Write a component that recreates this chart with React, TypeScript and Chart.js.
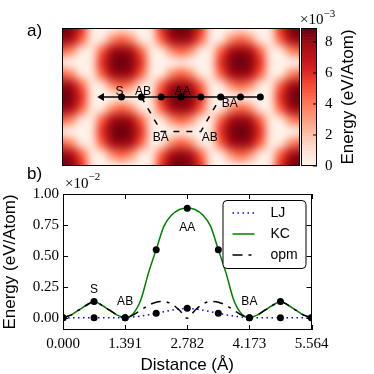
import { useEffect, useRef } from 'react';
import { Chart, registerables } from 'chart.js';

Chart.register(...registerables);

const SANS = '"Liberation Sans", Arial, sans-serif';
const SERIF = '"Liberation Serif", "Times New Roman", serif';

// ---------------- Panel a: energy landscape (x10^-3 eV/Atom) ----------------
// one rectangular period of the landscape, sampled every 0.348 Å (x) and 0.402 Å (y)
const latticeStepX = 0.34775;
const latticeStepY = 0.40167;
const energyRow0 = [8.85, 8.3, 5.8, 1.2, 0, 0.3, 1.0, 0.3, 0, 1.2, 5.8, 8.3];
const energyRow1 = [8.1, 7.4, 4.6, 0.9, 0.9, 3.4, 4.6, 3.4, 0.9, 0.9, 4.6, 7.4];
const energyRow2 = [4.6, 3.4, 0.9, 0.9, 4.6, 7.4, 8.1, 7.4, 4.6, 0.9, 0.9, 3.4];
const energyRow3 = [1.0, 0.3, 0, 1.2, 5.8, 8.3, 8.85, 8.3, 5.8, 1.2, 0, 0.3];
const energyRow4 = [4.6, 3.4, 0.9, 0.9, 4.6, 7.4, 8.1, 7.4, 4.6, 0.9, 0.9, 3.4];
const energyRow5 = [8.1, 7.4, 4.6, 0.9, 0.9, 3.4, 4.6, 3.4, 0.9, 0.9, 4.6, 7.4];
const energyCell = [energyRow0, energyRow1, energyRow2, energyRow3, energyRow4, energyRow5];
const heatXMax = 8.346;
const heatYMax = 4.82;
const colorbarMax = 8.9;
const colorbarTicks = [0, 2, 4, 6, 8];

const pathX = [6.955, 6.2595, 5.564, 4.8685, 4.173, 3.4775, 2.782, 2.0865, 1.391];
const pathY = [2.41, 2.41, 2.41, 2.41, 2.41, 2.41, 2.41, 2.41, 2.41];
const dashX = [2.782, 3.4775, 4.8685, 5.564];
const dashY = [2.41, 3.615, 3.615, 2.41];
const siteNames = ['S', 'AB', 'AA', 'BA', 'BA', 'AB'];
const siteX = [2.02, 2.84, 4.23, 5.88, 3.46, 5.18];
const siteY = [2.21, 2.21, 2.21, 2.63, 3.84, 3.84];

// ---------------- Panel b: energy profile (x10^-2 eV/Atom) ----------------
const distance = [0, 0.174, 0.348, 0.522, 0.696, 0.869, 1.043, 1.217, 1.391, 1.565, 1.739, 1.913, 2.087, 2.26, 2.434, 2.608, 2.782, 2.956, 3.13, 3.304, 3.478, 3.651, 3.825, 3.999, 4.173, 4.347, 4.521, 4.695, 4.869, 5.042, 5.216, 5.39, 5.564];
const energyLJ = [0, 0, 0, 0, 0, 0, 0, 0, 0, 0.005, 0.013, 0.023, 0.035, 0.048, 0.06, 0.07, 0.075, 0.07, 0.06, 0.048, 0.035, 0.023, 0.013, 0.005, 0, 0, 0, 0, 0, 0, 0, 0, 0];
const energyKC = [0, 0.02, 0.06, 0.1, 0.13, 0.1, 0.06, 0.02, 0, 0.03, 0.14, 0.36, 0.55, 0.74, 0.83, 0.875, 0.885, 0.875, 0.83, 0.74, 0.55, 0.36, 0.14, 0.03, 0, 0.02, 0.06, 0.1, 0.13, 0.1, 0.06, 0.02, 0];
const energyOpm = [0, 0.02, 0.06, 0.1, 0.13, 0.1, 0.06, 0.02, 0, 0.02, 0.06, 0.1, 0.125, 0.13, 0.11, 0.06, -0.005, 0.06, 0.11, 0.13, 0.125, 0.1, 0.06, 0.02, 0, 0.02, 0.06, 0.1, 0.13, 0.1, 0.06, 0.02, 0];
const nodeDistance = [0, 0.6955, 1.391, 2.0865, 2.782, 3.4775, 4.173, 4.8685, 5.564];
const nodeKC = [0, 0.13, 0, 0.55, 0.885, 0.55, 0, 0.13, 0];
const nodeLJ = [0, 0, 0, 0.035, 0.075, 0.035, 0, 0, 0];
const xTicks = [0, 1.391, 2.782, 4.173, 5.564];
const yTicks = [0, 0.25, 0.5, 0.75, 1.0];
const profileNames = ['S', 'AB', 'AA', 'BA'];
const profileX = [0.6955, 1.391, 2.782, 4.173];
const profileY = [0.23, 0.13, 0.73, 0.13];
const legendNames = ['LJ', 'KC', 'opm'];

const REDS: number[][] = [
  [255, 245, 240], [254, 224, 210], [252, 187, 161], [252, 146, 114], [251, 106, 74],
  [239, 59, 44], [203, 24, 29], [165, 15, 21], [103, 0, 13],
];
function reds(t: number): number[] {
  const c = Math.max(0, Math.min(1, t)) * 8;
  const i = Math.min(7, Math.floor(c));
  const f = c - i;
  return REDS[i].map((v, k) => v + (REDS[i + 1][k] - v) * f);
}
const rgb = (c: number[]) => `rgb(${Math.round(c[0])},${Math.round(c[1])},${Math.round(c[2])})`;

const heatmapPlugin = {
  id: 'heatmap',
  beforeDatasetsDraw(chart: any) {
    const { ctx, chartArea, scales } = chart;
    const nx = Math.round(heatXMax / latticeStepX) + 1;
    const ny = Math.round(heatYMax / latticeStepY) + 1;
    const off = document.createElement('canvas');
    off.width = nx;
    off.height = ny;
    const octx = off.getContext('2d')!;
    const img = octx.createImageData(nx, ny);
    for (let j = 0; j < ny; j++) {
      const row = energyCell[j % energyCell.length];
      for (let i = 0; i < nx; i++) {
        const v = row[i % row.length];
        const c = reds(v / colorbarMax);
        const p = (j * nx + i) * 4;
        img.data[p] = c[0];
        img.data[p + 1] = c[1];
        img.data[p + 2] = c[2];
        img.data[p + 3] = 255;
      }
    }
    octx.putImageData(img, 0, 0);
    const x0 = scales.x.getPixelForValue(0);
    const x1 = scales.x.getPixelForValue((nx - 1) * latticeStepX);
    const y0 = scales.y.getPixelForValue(0);
    const y1 = scales.y.getPixelForValue((ny - 1) * latticeStepY);
    const cw = (x1 - x0) / (nx - 1);
    const ch = (y1 - y0) / (ny - 1);
    ctx.save();
    ctx.beginPath();
    ctx.rect(chartArea.left, chartArea.top, chartArea.right - chartArea.left, chartArea.bottom - chartArea.top);
    ctx.clip();
    ctx.imageSmoothingEnabled = true;
    (ctx as any).imageSmoothingQuality = 'high';
    ctx.drawImage(off, x0 - cw / 2, y0 - ch / 2, cw * nx, ch * ny);
    ctx.restore();
  },
};

const panelAPlugin = {
  id: 'panelA',
  afterDraw(chart: any) {
    const { ctx, chartArea, scales } = chart;
    const { left, right, top, bottom } = chartArea;
    ctx.save();
    // site labels
    ctx.fillStyle = 'black';
    ctx.font = `12px ${SANS}`;
    ctx.textAlign = 'center';
    ctx.textBaseline = 'middle';
    siteNames.forEach((n, i) => {
      ctx.fillText(n, scales.x.getPixelForValue(siteX[i]), scales.y.getPixelForValue(siteY[i]));
    });
    // frame
    ctx.strokeStyle = 'black';
    ctx.lineWidth = 1;
    ctx.strokeRect(left + 0.5, top + 0.5, right - left - 1, bottom - top - 1);
    // colorbar
    const cb = scales.cb;
    const cbL = right + 1;
    const cbR = right + 17;
    const nBands = 45;
    const step = colorbarMax / nBands;
    for (let k = 0; k < nBands; k++) {
      const ya = cb.getPixelForValue(k * step);
      const yb = cb.getPixelForValue((k + 1) * step);
      ctx.fillStyle = rgb(reds((k + 0.5) / nBands));
      ctx.fillRect(cbL, yb, cbR - cbL, ya - yb + 0.6);
    }
    ctx.strokeRect(cbL + 0.5, top + 0.5, cbR - cbL - 1, bottom - top - 1);
    ctx.fillStyle = 'black';
    ctx.font = `15px ${SERIF}`;
    ctx.textAlign = 'left';
    colorbarTicks.forEach((t) => {
      const y = cb.getPixelForValue(t);
      ctx.beginPath();
      ctx.moveTo(cbR - 4, y);
      ctx.lineTo(cbR, y);
      ctx.stroke();
      ctx.fillText(String(t), cbR + 8, y);
    });
    // multiplier
    ctx.font = `15px ${SERIF}`;
    ctx.fillText('\u00d710', cbL - 1, top - 8);
    const w = ctx.measureText('\u00d710').width;
    ctx.font = `11px ${SERIF}`;
    ctx.fillText('\u22123', cbL - 1 + w, top - 14);
    // colorbar title
    ctx.save();
    ctx.translate(cbR + 31, (top + bottom) / 2);
    ctx.rotate(-Math.PI / 2);
    ctx.textAlign = 'center';
    ctx.font = `17px ${SANS}`;
    ctx.fillText('Energy (eV/Atom)', 0, 0);
    ctx.restore();
    // panel letter
    ctx.font = `17px ${SANS}`;
    ctx.textAlign = 'left';
    ctx.fillText('a)', 27, 31);
    ctx.restore();
  },
};

const panelBPlugin = {
  id: 'panelB',
  afterDraw(chart: any) {
    const { ctx, chartArea, scales } = chart;
    const { left, right, top, bottom } = chartArea;
    const x = scales.x;
    const y = scales.y;
    ctx.save();
    ctx.strokeStyle = 'black';
    ctx.lineWidth = 1;
    ctx.strokeRect(Math.round(left) + 0.5, Math.round(top) + 0.5, Math.round(right - left) - 1, Math.round(bottom - top) - 1);
    ctx.beginPath();
    xTicks.forEach((v) => {
      const px = Math.round(x.getPixelForValue(v)) + 0.5;
      ctx.moveTo(px, bottom);
      ctx.lineTo(px, bottom - 5);
      ctx.moveTo(px, top);
      ctx.lineTo(px, top + 5);
    });
    yTicks.forEach((v) => {
      const py = Math.round(y.getPixelForValue(v)) + 0.5;
      ctx.moveTo(left, py);
      ctx.lineTo(left + 5, py);
      ctx.moveTo(right, py);
      ctx.lineTo(right - 5, py);
    });
    ctx.stroke();
    // site labels
    ctx.fillStyle = 'black';
    ctx.font = `12px ${SANS}`;
    ctx.textAlign = 'center';
    ctx.textBaseline = 'middle';
    profileNames.forEach((n, i) => {
      ctx.fillText(n, x.getPixelForValue(profileX[i]), y.getPixelForValue(profileY[i]));
    });
    // legend
    const lx = right - 89;
    const ly = top + 6;
    const lw = 83;
    const lh = 68;
    ctx.beginPath();
    (ctx as any).roundRect(lx + 0.5, ly + 0.5, lw, lh, 4);
    ctx.fillStyle = 'white';
    ctx.fill();
    ctx.strokeStyle = 'black';
    ctx.lineWidth = 1;
    ctx.stroke();
    legendNames.forEach((n, i) => {
      const ds = chart.data.datasets.find((d: any) => d.label === n);
      const yy = ly + 13 + i * 21;
      ctx.save();
      ctx.strokeStyle = ds.borderColor;
      ctx.lineWidth = ds.borderWidth;
      ctx.setLineDash(ds.borderDash || []);
      ctx.beginPath();
      ctx.moveTo(lx + 10, yy);
      ctx.lineTo(lx + 32, yy);
      ctx.stroke();
      ctx.restore();
      ctx.fillStyle = 'black';
      ctx.font = `14px ${SANS}`;
      ctx.textAlign = 'left';
      ctx.fillText(n, lx + 48, yy);
    });
    // multiplier
    ctx.textAlign = 'left';
    ctx.font = `15px ${SERIF}`;
    ctx.fillText('\u00d710', left + 2, top - 10);
    const w = ctx.measureText('\u00d710').width;
    ctx.font = `11px ${SERIF}`;
    ctx.fillText('\u22122', left + 2 + w, top - 17);
    ctx.font = `17px ${SANS}`;
    ctx.fillText('b)', 27, 174);
    ctx.restore();
  },
};

function pts(xs: number[], ys: number[]) {
  return xs.map((x, i) => ({ x, y: ys[i] }));
}

export default function App() {
  const refA = useRef<HTMLCanvasElement>(null);
  const refB = useRef<HTMLCanvasElement>(null);

  useEffect(() => {
    const chartA = new Chart(refA.current!, {
      type: 'scatter',
      data: {
        datasets: [
          {
            label: 'arrow',
            data: pts(pathX.slice(-1), pathY.slice(-1)),
            pointStyle: 'triangle',
            rotation: -90,
            pointRadius: 4.5,
            backgroundColor: 'black',
            borderColor: 'black',
            borderWidth: 0,
            showLine: false,
          } as any,
          {
            label: 'path',
            data: pts(pathX, pathY),
            showLine: true,
            borderColor: 'black',
            borderWidth: 1.6,
            pointRadius: pathX.map((_, i) => (i < pathX.length - 1 ? 3.5 : 0)),
            pointBackgroundColor: 'black',
            pointBorderWidth: 0,
          },
          {
            label: 'dash',
            data: pts(dashX, dashY),
            showLine: true,
            borderColor: 'black',
            borderWidth: 1.5,
            borderDash: [6, 7],
            pointRadius: 0,
          },
        ],
      },
      options: {
        responsive: false,
        animation: false,
        devicePixelRatio: 1,
        events: [],
        layout: { padding: { left: 62, right: 74, top: 28, bottom: 208 } },
        scales: {
          x: { type: 'linear', min: 0, max: heatXMax, display: false },
          y: { type: 'linear', min: 0, max: heatYMax, reverse: true, display: false },
          cb: { type: 'linear', axis: 'y', min: 0, max: colorbarMax, display: false },
        } as any,
        plugins: { legend: { display: false }, tooltip: { enabled: false } },
      },
      plugins: [heatmapPlugin, panelAPlugin],
    });

    const chartB = new Chart(refB.current!, {
      type: 'scatter',
      data: {
        datasets: [
          {
            label: 'KC points',
            data: pts(nodeDistance, nodeKC),
            pointRadius: 3.5,
            pointBackgroundColor: 'black',
            pointBorderColor: 'black',
            pointBorderWidth: 0,
            showLine: false,
          },
          {
            label: 'LJ points',
            data: pts(nodeDistance, nodeLJ),
            pointRadius: 3.5,
            pointBackgroundColor: 'black',
            pointBorderColor: 'black',
            pointBorderWidth: 0,
            showLine: false,
          },
          {
            label: 'opm',
            data: pts(distance, energyOpm),
            showLine: true,
            borderColor: 'black',
            borderWidth: 1.5,
            borderDash: [10, 6, 3, 6],
            pointRadius: 0,
            cubicInterpolationMode: 'monotone',
          },
          {
            label: 'KC',
            data: pts(distance, energyKC),
            showLine: true,
            borderColor: 'rgb(0,128,0)',
            borderWidth: 1.5,
            pointRadius: 0,
            cubicInterpolationMode: 'monotone',
          },
          {
            label: 'LJ',
            data: pts(distance, energyLJ),
            showLine: true,
            borderColor: 'rgb(0,0,255)',
            borderWidth: 1.5,
            borderDash: [1.5, 3.5],
            pointRadius: 0,
            cubicInterpolationMode: 'monotone',
          },
        ],
      },
      options: {
        responsive: false,
        animation: false,
        devicePixelRatio: 1,
        events: [],
        layout: { padding: { left: 0, right: 62.5, top: 194, bottom: 0 } },
        scales: {
          x: {
            type: 'linear',
            min: 0,
            max: 5.564,
            afterBuildTicks: (s: any) => {
              s.ticks = xTicks.map((v) => ({ value: v }));
            },
            afterFit: (s: any) => {
              s.height = 44;
            },
            ticks: {
              autoSkip: false,
              maxRotation: 0,
              padding: 5,
              color: 'black',
              font: { family: SERIF, size: 15 },
              callback: (v: any) => Number(v).toFixed(3),
            },
            grid: { display: false, drawTicks: false },
            border: { display: false },
            title: {
              display: true,
              text: 'Distance (\u00c5)',
              color: 'black',
              font: { family: SANS, size: 17, lineHeight: 1 },
              padding: { top: 0, bottom: 0 },
            },
          },
          y: {
            type: 'linear',
            min: -0.1,
            max: 1.0,
            afterBuildTicks: (s: any) => {
              s.ticks = yTicks.map((v) => ({ value: v }));
            },
            afterFit: (s: any) => {
              s.width = 63;
            },
            ticks: {
              autoSkip: false,
              padding: 4,
              color: 'black',
              font: { family: SERIF, size: 15 },
              callback: (v: any) => Number(v).toFixed(2),
            },
            grid: { display: false, drawTicks: false },
            border: { display: false },
            title: {
              display: true,
              text: 'Energy (eV/Atom)',
              color: 'black',
              font: { family: SANS, size: 17, lineHeight: 1 },
              padding: { top: 2, bottom: 0 },
            },
          },
        } as any,
        plugins: { legend: { display: false }, tooltip: { enabled: false } },
      },
      plugins: [panelBPlugin],
    });

    return () => {
      chartA.destroy();
      chartB.destroy();
    };
  }, []);

  const cs = { position: 'absolute', left: 0, top: 0, width: 374, height: 374 } as const;
  return (
    <div style={{ position: 'absolute', left: 0, top: 0, width: 374, height: 374, background: 'white' }}>
      <canvas ref={refB} width={374} height={374} style={cs} />
      <canvas ref={refA} width={374} height={374} style={cs} />
    </div>
  );
}
